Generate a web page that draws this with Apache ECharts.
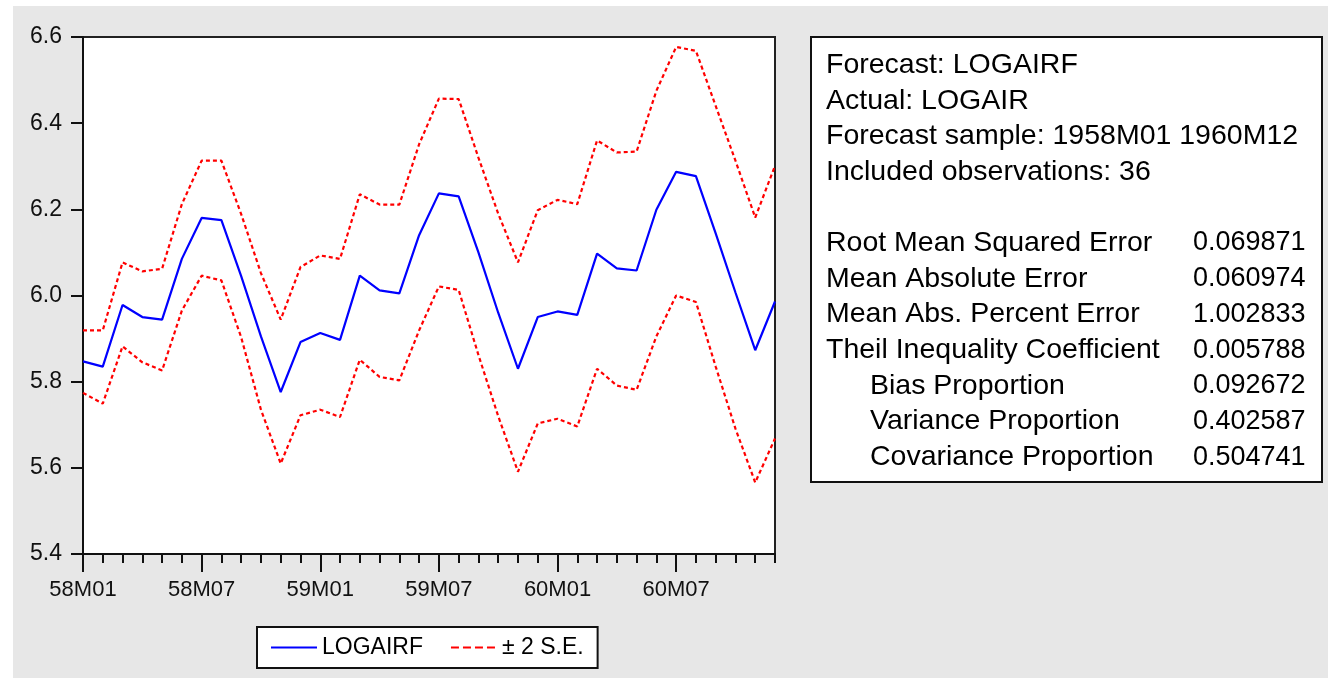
<!DOCTYPE html>
<html>
<head>
<meta charset="utf-8">
<script src="https://cdn.jsdelivr.net/npm/echarts@6/dist/echarts.min.js"></script>
<style>
  html, body { margin:0; padding:0; background:#ffffff; }
  #bg { position:absolute; left:13px; top:6px; width:1315px; height:672px; background:#e7e7e7; }
  #chart { position:absolute; left:0; top:0; width:1328px; height:678px; }
</style>
</head>
<body>
<div id="bg"></div>
<div id="chart"></div>
<script>
// ---- data ----
const months = ['58M01','58M02','58M03','58M04','58M05','58M06','58M07','58M08','58M09','58M10','58M11','58M12',
                '59M01','59M02','59M03','59M04','59M05','59M06','59M07','59M08','59M09','59M10','59M11','59M12',
                '60M01','60M02','60M03','60M04','60M05','60M06','60M07','60M08','60M09','60M10','60M11','60M12'];
const forecast = [5.847,5.835,5.978,5.950,5.944,6.085,6.180,6.175,6.045,5.905,5.776,5.892,
                  5.913,5.897,6.046,6.012,6.005,6.140,6.237,6.230,6.100,5.960,5.830,5.950,
                  5.963,5.955,6.097,6.063,6.058,6.199,6.287,6.277,6.144,6.007,5.873,5.986];
const upperBand = [5.919,5.919,6.077,6.056,6.062,6.212,6.313,6.313,6.189,6.052,5.944,6.066,
                   6.093,6.085,6.235,6.211,6.211,6.351,6.457,6.456,6.320,6.190,6.077,6.198,
                   6.222,6.212,6.360,6.332,6.334,6.475,6.577,6.568,6.440,6.313,6.181,6.301];
const lowerBand = [5.774,5.749,5.882,5.845,5.826,5.965,6.046,6.035,5.903,5.735,5.610,5.722,
                   5.735,5.718,5.851,5.811,5.803,5.919,6.021,6.013,5.862,5.720,5.591,5.703,
                   5.714,5.696,5.830,5.791,5.781,5.905,6.000,5.985,5.835,5.691,5.566,5.668];
const yTicks = { min: 5.4, max: 6.6, step: 0.2 };
const headerLines = ['Forecast: LOGAIRF','Actual: LOGAIR','Forecast sample: 1958M01 1960M12','Included observations: 36'];
const statLabels = ['Root Mean Squared Error','Mean Absolute Error','Mean Abs. Percent Error','Theil Inequality Coefficient',
                    'Bias Proportion','Variance Proportion','Covariance Proportion'];
const statIndent = [false,false,false,false,true,true,true];
const statValues = ['0.069871','0.060974','1.002833','0.005788','0.092672','0.402587','0.504741'];

// ---- chart ----
const FONT = '"Liberation Sans", Arial, sans-serif';
const chart = echarts.init(document.getElementById('chart'), null, {renderer:'canvas'});

const graphics = [];
graphics.push({type:'rect', shape:{x:811, y:37, width:511, height:445},
  style:{fill:'#ffffff', stroke:'#111111', lineWidth:2}, z:1});
function txt(t, x, y, size) {
  return {type:'text', x:x, y:y, z:2,
    style:{text:t, fill:'#000000', font:size + 'px ' + FONT, textVerticalAlign:'middle', verticalAlign:'middle'}};
}
headerLines.forEach((t, i) => graphics.push(txt(t, 826, 65 + i*35.7, 28.5)));
statLabels.forEach((t, i) => {
  graphics.push(txt(t, statIndent[i] ? 870 : 826, 243 + i*35.7, 28.5));
  graphics.push(txt(statValues[i], 1193, 243 + i*35.7, 27));
});

const option = {
  animation: false,
  backgroundColor: 'transparent',
  grid: { left:83, top:37, right:553, bottom:124, show:true, backgroundColor:'#ffffff',
          borderColor:'#222222', borderWidth:2, containLabel:false },
  legend: {
    left:257, top:627, orient:'horizontal',
    backgroundColor:'#ffffff', borderColor:'#111111', borderWidth:2,
    padding:[9,14,9,13], itemWidth:46, itemHeight:14, itemGap:27,
    itemStyle:{color:'rgba(0,0,0,0)', borderColor:'rgba(0,0,0,0)', borderWidth:0, opacity:0},
    textStyle:{fontFamily:FONT, fontSize:23, color:'#000000'},
    data:[{name:'LOGAIRF'}, {name:'± 2 S.E.', lineStyle:{type:[8,4]}}]
  },
  xAxis: [
    { type:'category', data:months, boundaryGap:false, gridIndex:0, position:'bottom',
      axisLine:{show:true, lineStyle:{color:'#111111', width:2}},
      axisTick:{show:true, interval:0, length:9, lineStyle:{color:'#111111', width:2}},
      axisLabel:{show:false}, splitLine:{show:false} },
    { type:'category', data:months, boundaryGap:false, gridIndex:0, position:'bottom',
      axisLine:{show:false},
      axisTick:{show:true, interval:5, length:18, lineStyle:{color:'#111111', width:2}},
      axisLabel:{show:true, interval:5, margin:25, fontFamily:FONT, fontSize:22, color:'#111111'},
      splitLine:{show:false} }
  ],
  yAxis: { type:'value', min:yTicks.min, max:yTicks.max, interval:yTicks.step,
    axisLine:{show:true, lineStyle:{color:'#111111', width:2}},
    axisTick:{show:true, length:12, lineStyle:{color:'#111111', width:2}},
    axisLabel:{margin:21, fontFamily:FONT, fontSize:23, color:'#111111', formatter:v => v.toFixed(1)},
    splitLine:{show:false} },
  series: [
    { name:'LOGAIRF', type:'line', data:forecast, xAxisIndex:0, symbol:'none',
      itemStyle:{color:'#0000ff'}, lineStyle:{color:'#0000ff', width:2.2} },
    { name:'± 2 S.E.', type:'line', data:upperBand, xAxisIndex:0, symbol:'none',
      itemStyle:{color:'#ff0000'}, lineStyle:{color:'#ff0000', width:2.2, type:[4,3]} },
    { name:'± 2 S.E.', type:'line', data:lowerBand, xAxisIndex:0, symbol:'none',
      itemStyle:{color:'#ff0000'}, lineStyle:{color:'#ff0000', width:2.2, type:[4,3]} }
  ],
  graphic: graphics
};
chart.setOption(option);
</script>
</body>
</html>
